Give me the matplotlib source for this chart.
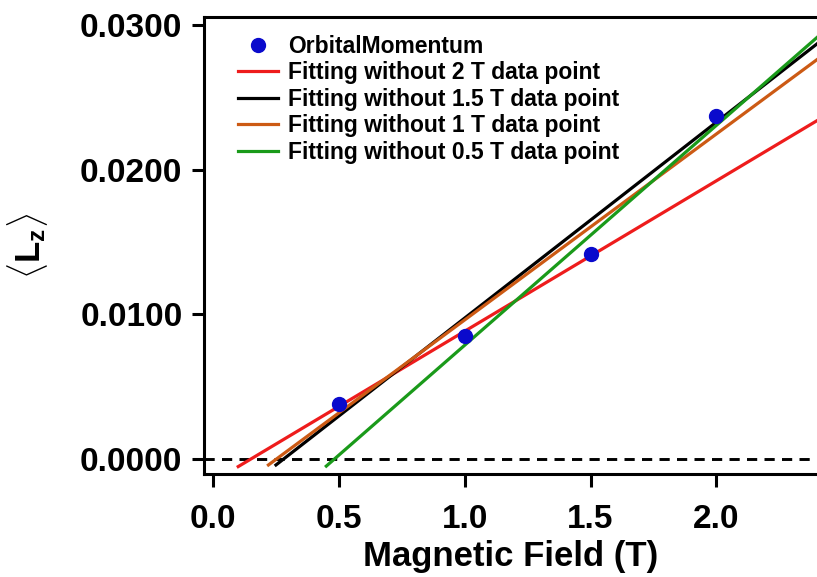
import numpy as np
import matplotlib
matplotlib.use("Agg")
import matplotlib.pyplot as plt

plt.rcParams['font.family'] = ['Liberation Sans', 'DejaVu Sans']
plt.rcParams['font.weight'] = 'bold'
plt.rcParams['mathtext.fontset'] = 'custom'
plt.rcParams['mathtext.rm'] = 'Liberation Sans'
plt.rcParams['mathtext.bf'] = 'Liberation Sans:bold'

# measured orbital momentum
field = np.array([0.5, 1.0, 1.5, 2.0])
lz = np.array([0.0038, 0.0085, 0.0142, 0.0237])

# each fit leaves one field point out
fit_labels = ['Fitting without 2 T data point',
              'Fitting without 1.5 T data point',
              'Fitting without 1 T data point',
              'Fitting without 0.5 T data point']
fit_excluded = [2.0, 1.5, 1.0, 0.5]
fit_colors = ['#ee1c1c', '#000000', '#cc5a14', '#1a9a1a']
fit_start = [0.10, 0.25, 0.22, 0.45]
fit_end = 2.5

xticks = [0.0, 0.5, 1.0, 1.5, 2.0]
yticks = [0.0, 0.01, 0.02, 0.03]

fig = plt.figure(figsize=(8.17, 5.77), dpi=100)
ax = fig.add_axes([0.2497, 0.1785, 0.7503, 0.792])

ax.axhline(0, color='black', lw=2.1, ls=(0, (3.5, 2.5)), zorder=1)

ax.plot(field, lz, 'o', color='#0a0acc', ms=10, label='OrbitalMomentum', zorder=4)

for lab, exc, col, x0 in zip(fit_labels, fit_excluded, fit_colors, fit_start):
    keep = field != exc
    k, b = np.polyfit(field[keep], lz[keep], 1)
    xs = np.array([x0, fit_end])
    ax.plot(xs, k * xs + b, color=col, lw=2.3, label=lab, zorder=3)

ax.set_xlim(-0.036, 2.40)
ax.set_ylim(-0.00104, 0.03056)
ax.set_xticks(xticks)
ax.set_xticklabels(['%.1f' % v for v in xticks])
ax.set_yticks(yticks)
ax.set_yticklabels(['%.4f' % v for v in yticks])

for s in ['left', 'bottom', 'top']:
    ax.spines[s].set_linewidth(2.2)
ax.spines['right'].set_visible(False)
ax.tick_params(axis='both', direction='out', length=9, width=2.2, labelsize=24)
ax.tick_params(axis='x', pad=12.5)
ax.tick_params(axis='y', pad=6.5)

ax.set_xlabel('Magnetic Field (T)', fontsize=25, fontweight='bold', labelpad=4)
ax.set_ylabel(r'$\langle\mathbf{L_z}\rangle$', fontsize=25, labelpad=22)

ax.legend(loc='upper left', bbox_to_anchor=(0.0555, 0.961), frameon=False,
          fontsize=16.5, handlelength=1.75, handletextpad=0.45,
          labelspacing=0.15, borderpad=0, borderaxespad=0)

fig.savefig('out.png', dpi=100)
